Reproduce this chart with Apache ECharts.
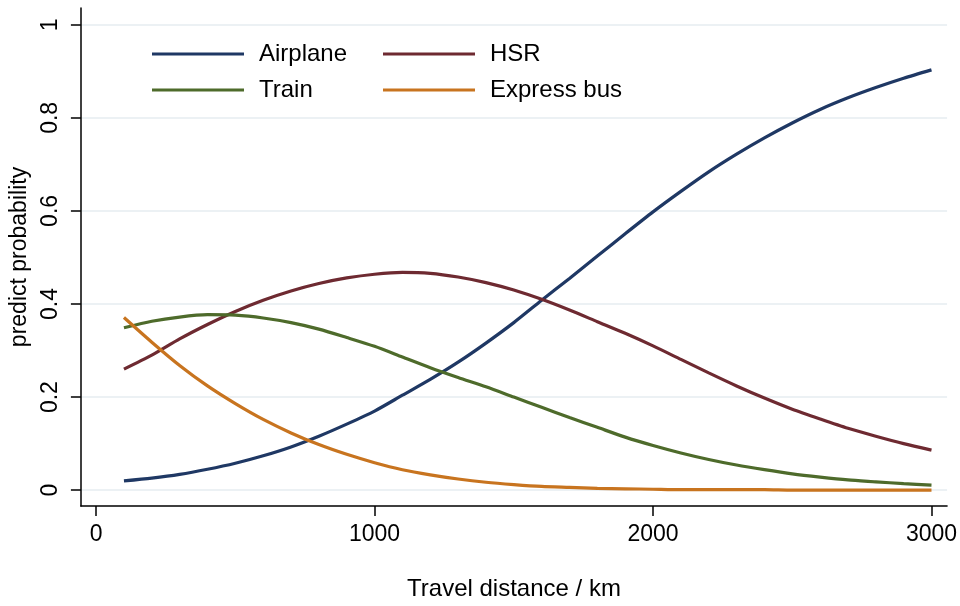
<!DOCTYPE html>
<html>
<head>
<meta charset="utf-8">
<script src="https://cdn.jsdelivr.net/npm/echarts@6/dist/echarts.min.js"></script>
<style>html,body{margin:0;padding:0;background:#fff}#c{width:960px;height:606px}</style>
</head>
<body>
<div id="c"></div>
<script>
// Travel distance (km)
const distance = [100,200,300,400,500,600,700,800,900,1000,1100,1200,1300,1400,1500,1600,1700,1800,1900,2000,2100,2200,2300,2400,2500,2600,2700,2800,2900,3000];
const airplane = [0.020,0.026,0.034,0.045,0.058,0.074,0.093,0.116,0.142,0.170,0.204,0.238,0.275,0.316,0.360,0.408,0.455,0.503,0.551,0.598,0.642,0.684,0.722,0.757,0.789,0.818,0.843,0.865,0.885,0.903];
const hsr      = [0.260,0.290,0.325,0.356,0.384,0.408,0.428,0.444,0.456,0.464,0.468,0.466,0.458,0.446,0.430,0.410,0.387,0.362,0.337,0.310,0.281,0.252,0.224,0.198,0.174,0.153,0.133,0.116,0.100,0.086];
const train    = [0.349,0.363,0.372,0.377,0.376,0.370,0.360,0.346,0.328,0.309,0.286,0.263,0.242,0.222,0.200,0.178,0.156,0.135,0.114,0.096,0.080,0.066,0.054,0.044,0.035,0.028,0.022,0.018,0.014,0.011];
const express  = [0.371,0.318,0.268,0.224,0.186,0.152,0.123,0.098,0.077,0.059,0.044,0.033,0.024,0.017,0.012,0.008,0.006,0.004,0.003,0.002,0.001,0.001,0.001,0.001,0.000,0.000,0.000,0.000,0.000,0.000];
const xTicks = [0,1000,2000,3000];
const yTicks = [0,0.2,0.4,0.6,0.8,1];
const seriesNames = ['Airplane','HSR','Train','Express bus'];

const colors = ['#1f3864','#6e2a31','#4e6b2b','#c8741f'];
const font = '"Liberation Sans", Arial, sans-serif';
const pairs = arr => distance.map((d,i)=>[d,arr[i]]);
const dataSets = [airplane, hsr, train, express];

const chart = echarts.init(document.getElementById('c'), null, {renderer:'canvas'});
const series = [{
  type:'line', data:[], silent:true, animation:false, z:0,
  markLine:{symbol:'none', silent:true, z:0, label:{show:false},
    lineStyle:{color:'#e6edf1', width:1.5, type:'solid'},
    data: yTicks.map(v=>({yAxis:v}))}
}].concat(seriesNames.map((n,i)=>({
  name:n, type:'line', data:pairs(dataSets[i]), showSymbol:false, smooth:0.25,
  lineStyle:{width:3.2, color:colors[i]}, itemStyle:{color:colors[i]}, z:3+i,
  silent:true, animation:false
})));
const legendCommon = {
  orient:'vertical', icon:'rect', itemWidth:92, itemHeight:3, itemGap:10, padding:0,
  textStyle:{fontSize:24, fontFamily:font, color:'#000', lineHeight:26, padding:[0,0,0,10]},
  selectedMode:false
};
chart.setOption({
  animation:false,
  backgroundColor:'#fff',
  grid:{left:77, right:12, top:8, bottom:98, containLabel:false},
  legend:[
    Object.assign({}, legendCommon, {left:152, top:41, data:['Airplane','Train']}),
    Object.assign({}, legendCommon, {left:383, top:41, data:['HSR','Express bus']})
  ],
  xAxis:{type:'value', min:-54.6, max:3056,
    name:'Travel distance / km', nameLocation:'middle', nameGap:71,
    nameTextStyle:{fontSize:24, fontFamily:font, color:'#000'},
    axisLine:{show:true, onZero:false, lineStyle:{color:'#000', width:1.5}},
    axisTick:{show:true, length:10, customValues:xTicks, lineStyle:{color:'#000', width:1.5}},
    axisLabel:{customValues:xTicks, formatter:v=>String(v), fontSize:23, fontFamily:font, color:'#000', margin:17},
    splitLine:{show:false}},
  yAxis:{type:'value', min:-0.034, max:1.036,
    name:'predict probability', nameLocation:'middle', nameGap:45,
    nameTextStyle:{fontSize:23, fontFamily:font, color:'#000'},
    axisLine:{show:true, onZero:false, lineStyle:{color:'#000', width:1.5}},
    axisTick:{show:true, length:10, customValues:yTicks, lineStyle:{color:'#000', width:1.5}},
    axisLabel:{customValues:yTicks, formatter:v=>String(Math.round(v*10)/10), rotate:90, fontSize:23, fontFamily:font, color:'#000', margin:19},
    splitLine:{show:false}},
  series:series
});
</script>
</body>
</html>
